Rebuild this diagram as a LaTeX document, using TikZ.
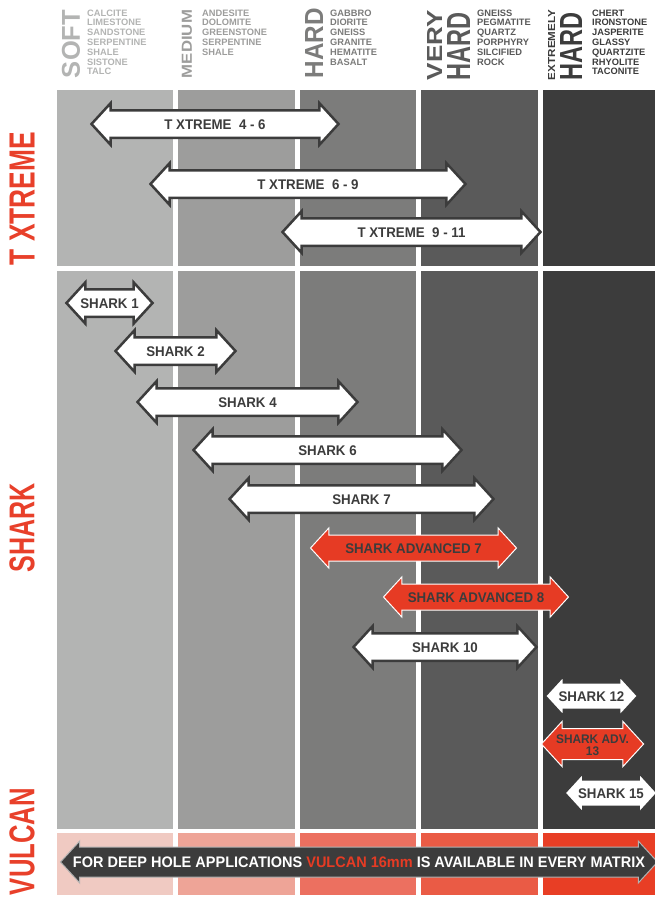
\documentclass[tikz,border=0pt]{standalone}
\usepackage{fontspec}
\setmainfont{Liberation Sans}
\newfontfamily\condfont{Liberation Sans}[FakeStretch=0.95]
\usetikzlibrary{shapes.arrows}
\definecolor{colA}{HTML}{B3B4B3}
\definecolor{colB}{HTML}{9D9D9C}
\definecolor{colC}{HTML}{7C7C7B}
\definecolor{colD}{HTML}{5A5A5A}
\definecolor{colE}{HTML}{3C3C3C}
\definecolor{vulA}{HTML}{F0CAC2}
\definecolor{vulB}{HTML}{EEA497}
\definecolor{vulC}{HTML}{EC7060}
\definecolor{vulD}{HTML}{EA5B45}
\definecolor{vulE}{HTML}{E83E25}
\definecolor{shred}{HTML}{E63B24}
\definecolor{labred}{HTML}{E8402A}
\definecolor{arrgray}{HTML}{3C3C3C}

\begin{document}
\begin{tikzpicture}[x=1pt,y=-1pt]
    \tikzset{
        hdword/.style={inner sep=0pt, rotate=90, font=\condfont\bfseries},
        rocks/.style={anchor=north west, inner sep=0pt, align=left, font=\bfseries\fontsize{9.3}{9.8}\selectfont},
        warrow/.style={double arrow, double arrow tip angle=95, double arrow head extend=7pt,
            draw=arrgray, line width=2.5pt, fill=white, text=arrgray, inner xsep=0pt, inner ysep=7.5pt,
            text height=10pt, text depth=0pt, font=\condfont\bfseries\fontsize{14}{14}\selectfont},
        rarrow/.style={warrow, fill=shred, draw=white, line width=1pt},
        sidelabel/.style={inner sep=0pt, rotate=90, text=labred, font=\condfont\bfseries},
    }
    \useasboundingbox (0,0) rectangle (655,897);
    % hardness columns
    \foreach \xa/\xb/\c/\v in {57/173/colA/vulA, 178/295/colB/vulB, 300/416/colC/vulC, 421/538/colD/vulD, 543/655/colE/vulE}{
        \fill[\c] (\xa,90) rectangle (\xb,266);
        \fill[\c] (\xa,271) rectangle (\xb,829);
        \fill[\v] (\xa,833) rectangle (\xb,895);
    }
    % header
    \node[hdword, text=colA] (soft) at (71,44) {\resizebox{68pt}{18pt}{SOFT}};
    \node[rocks, text=colA] (softrocks) at (87,9.5) {CALCITE\\LIMESTONE\\SANDSTONE\\SERPENTINE\\SHALE\\SISTONE\\TALC};
    \node[hdword, text=colB] (medium) at (187,44) {\resizebox{68pt}{10pt}{MEDIUM}};
    \node[rocks, text=colB] (mediumrocks) at (202,9.5) {ANDESITE\\DOLOMITE\\GREENSTONE\\SERPENTINE\\SHALE};
    \node[hdword, text=colC] (hard) at (314,43) {\resizebox{70pt}{18pt}{HARD}};
    \node[rocks, text=colC] (hardrocks) at (330,9.5) {GABBRO\\DIORITE\\GNEISS\\GRANITE\\HEMATITE\\BASALT};
    \node[hdword, text=colD] (very) at (434.5,45) {\resizebox{70pt}{15pt}{VERY}};
    \node[hdword, text=colD] (veryhard) at (458.5,46) {\resizebox{68pt}{23pt}{HARD}};
    \node[rocks, text=colD] (veryrocks) at (477,9.5) {GNEISS\\PEGMATITE\\QUARTZ\\PORPHYRY\\SILCIFIED\\ROCK};
    \node[hdword, text=colE] (extremely) at (551.5,45) {\resizebox{70pt}{7pt}{EXTREMELY}};
    \node[hdword, text=colE] (extremehard) at (571,46) {\resizebox{68pt}{22pt}{HARD}};
    \node[rocks, text=colE] (extremerocks) at (592,9.5) {CHERT\\IRONSTONE\\JASPERITE\\GLASSY\\QUARTZITE\\RHYOLITE\\TACONITE};
    % product families
    \node[sidelabel] (txlabel) at (22,198.5) {\resizebox{133pt}{25pt}{T XTREME}};
    \node[sidelabel] (sharklabel) at (22,527.5) {\resizebox{89pt}{25pt}{SHARK}};
    \node[sidelabel] (vulcanlabel) at (22,841.5) {\resizebox{107pt}{25pt}{VULCAN}};
    % ranges
    \node[warrow, minimum height=247pt] (tx46) at (215,124) {T XTREME\ \ 4 - 6};
    \node[warrow, minimum height=315pt] (tx69) at (308,184) {T XTREME\ \ 6 - 9};
    \node[warrow, minimum height=258pt] (tx911) at (411.5,232) {T XTREME\ \ 9 - 11};
    \node[warrow, minimum height=86pt] (sh1) at (109.5,303) {SHARK 1};
    \node[warrow, minimum height=120pt] (sh2) at (175.5,351) {SHARK 2};
    \node[warrow, minimum height=220pt] (sh4) at (247.5,402) {SHARK 4};
    \node[warrow, minimum height=268pt] (sh6) at (327.5,450) {SHARK 6};
    \node[warrow, minimum height=264pt] (sh7) at (361.5,499) {SHARK 7};
    \node[rarrow, minimum height=206pt] (sha7) at (413.5,548) {SHARK ADVANCED 7};
    \node[rarrow, minimum height=185pt] (sha8) at (476,597) {SHARK ADVANCED 8};
    \node[warrow, minimum height=183pt] (sh10) at (445,647) {SHARK 10};
    \node[warrow, minimum height=88pt] (sh12) at (591.5,696) {SHARK 12};
    \node[rarrow, minimum height=94pt, inner ysep=5.5pt, text height=9pt, text depth=10pt,
        font=\condfont\bfseries\fontsize{12.5}{10}\selectfont] (sha13) at (592.5,744)
        {\begin{tabular}[t]{@{}c@{}}SHARK ADV.\\13\end{tabular}};
    \node[warrow, minimum height=87pt] (sh15) at (611,793) {SHARK 15};
    \node[warrow, minimum height=597pt, fill=arrgray, draw=gray!60, line width=1pt, text=white,
        inner ysep=8.75pt, text height=11.5pt, double arrow head extend=6pt] (vulcan) at (359,862)
        {\makebox[400pt]{\resizebox{572pt}{!}{FOR DEEP HOLE APPLICATIONS \textcolor{shred}{VULCAN 16mm} IS AVAILABLE IN EVERY MATRIX}}};
\end{tikzpicture}
\end{document}
